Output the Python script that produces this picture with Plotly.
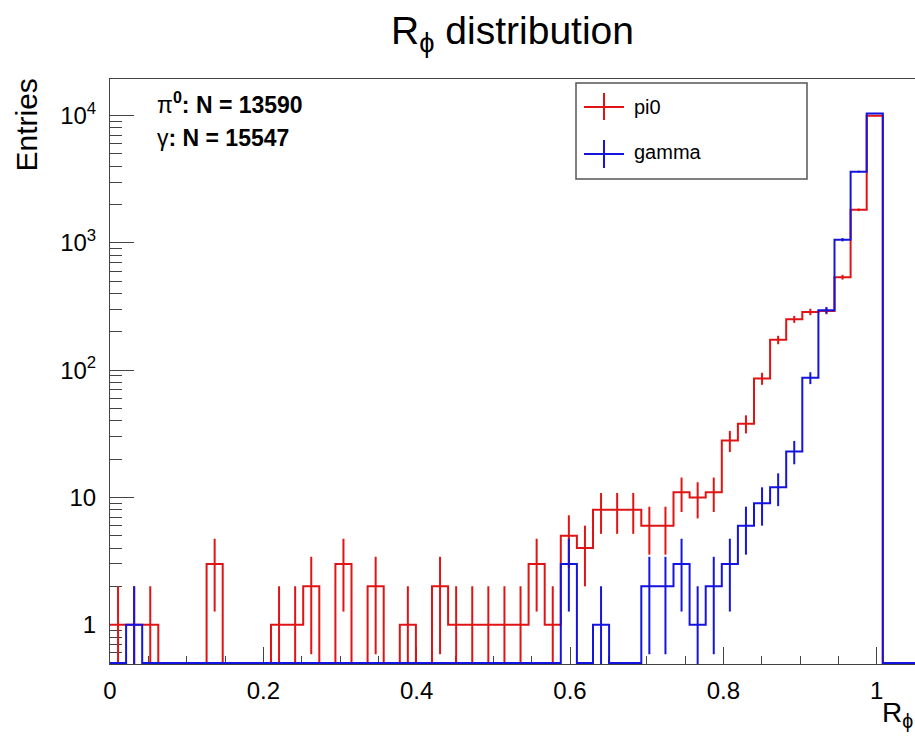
import math
import plotly.graph_objects as go

# ---------------- data ----------------
NBINS = 50
X_LOW = 0.0
X_HIGH = 1.05

pi0_counts = [1, 1, 1, 0, 0, 0, 3, 0, 0, 0,
              1, 1, 2, 0, 3, 0, 2, 0, 1, 0,
              2, 1, 1, 1, 1, 1, 3, 1, 5, 4,
              8, 8, 8, 6, 6, 11, 10, 11, 28, 38,
              86, 173, 251, 287, 292, 538, 1820, 9973, 0, 0]

gamma_counts = [0, 1, 0, 0, 0, 0, 0, 0, 0, 0,
                0, 0, 0, 0, 0, 0, 0, 0, 0, 0,
                0, 0, 0, 0, 0, 0, 0, 0, 3, 0,
                1, 0, 0, 2, 2, 3, 1, 2, 3, 6,
                9, 12, 23, 87, 296, 1060, 3630, 10406, 0, 0]

series_names = ["pi0", "gamma"]
x_tick_vals = [0, 0.2, 0.4, 0.6, 0.8, 1.0]
x_tick_text = ["0", "0.2", "0.4", "0.6", "0.8", "1"]
y_tick_vals = [1, 10, 100, 1000, 10000]
y_tick_text = ["1", "10", "10<sup>2</sup>", "10<sup>3</sup>", "10<sup>4</sup>"]

Y_MIN = 0.5
Y_MAX = 19400

RED = "#e01414"
BLUE = "#1414e0"

W, H = 915, 736
SL, ST, SR, SB = 110, 79, 915, 664          # plot frame in pixels
L, T, R, B = SL, ST, W - SR, H - SB
PW, PH = SR - SL, SB - ST


def px(xp):
    return (xp - SL) / PW


def py(yp):
    return (SB - yp) / PH


bw = (X_HIGH - X_LOW) / NBINS
edges = [X_LOW + i * bw for i in range(NBINS + 1)]
centers = [X_LOW + (i + 0.5) * bw for i in range(NBINS)]


def step_trace(counts, color):
    ys = [max(c, Y_MIN) for c in counts]
    ys = ys + [ys[-1]]
    return go.Scatter(x=edges, y=ys, mode="lines", line=dict(color=color, width=2, shape="hv"),
                      showlegend=False, hoverinfo="skip")


def err_trace(counts, color):
    xs, ys = [], []
    for c, n in zip(centers, counts):
        if n > 0:
            e = math.sqrt(n)
            xs += [c, c, None]
            ys += [max(n - e, 1e-3), n + e, None]
    return go.Scatter(x=xs, y=ys, mode="lines", line=dict(color=color, width=2),
                      showlegend=False, hoverinfo="skip")


fig = go.Figure()
fig.add_trace(step_trace(pi0_counts, RED))
fig.add_trace(err_trace(pi0_counts, RED))
fig.add_trace(step_trace(gamma_counts, BLUE))
fig.add_trace(err_trace(gamma_counts, BLUE))

minor_y = sorted(set(m * 10 ** k for k in range(-1, 5) for m in range(2, 10)
                     if Y_MIN < m * 10 ** k < Y_MAX))

axis_col = "#444444"
FONT = "Liberation Sans"
fig.update_xaxes(range=[X_LOW, X_HIGH], showline=True, mirror=True, linecolor=axis_col, linewidth=1,
                 ticks="inside", ticklen=17, tickwidth=1, tickcolor=axis_col,
                 tickvals=x_tick_vals, ticktext=x_tick_text,
                 minor=dict(ticks="inside", ticklen=8, tickwidth=1, tickcolor=axis_col, dtick=0.05, showgrid=False),
                 showgrid=False, zeroline=False, layer="below traces",
                 tickfont=dict(family=FONT, size=24, color="black"), ticklabelstandoff=5)
fig.update_yaxes(type="log", range=[math.log10(Y_MIN) - 0.008, math.log10(Y_MAX)], showline=True, mirror=True,
                 linecolor=axis_col, linewidth=1,
                 ticks="inside", ticklen=24, tickwidth=1, tickcolor=axis_col,
                 tickvals=y_tick_vals, ticktext=y_tick_text,
                 minor=dict(ticks="inside", ticklen=12, tickwidth=1, tickcolor=axis_col,
                            tickmode="array", tickvals=minor_y, showgrid=False),
                 showgrid=False, zeroline=False, layer="below traces",
                 tickfont=dict(family=FONT, size=24, color="black"), ticklabelstandoff=8)

shapes = []
# legend box
shapes.append(dict(type="rect", xref="paper", yref="paper", x0=px(576), x1=px(807), y0=py(179), y1=py(83),
                   line=dict(color="#555555", width=1.5), fillcolor="white"))
for col, yc, y0, y1 in [(RED, 107, 93, 120), (BLUE, 154, 140, 168)]:
    shapes.append(dict(type="line", xref="paper", yref="paper", x0=px(584), x1=px(624), y0=py(yc), y1=py(yc),
                       line=dict(color=col, width=2)))
    shapes.append(dict(type="line", xref="paper", yref="paper", x0=px(604), x1=px(604), y0=py(y0), y1=py(y1),
                       line=dict(color=col, width=2)))

annotations = []
for name, yc in zip(series_names, [107, 152]):
    annotations.append(dict(text=name, xref="paper", yref="paper", x=px(632), y=py(yc), xanchor="left",
                            yanchor="middle", showarrow=False,
                            font=dict(family=FONT, size=20, color="black")))

annotations.append(dict(text="π<b><sup>0</sup>: N = %d</b>" % sum(pi0_counts), xref="paper", yref="paper",
                        x=px(155), y=py(103), xanchor="left", yanchor="middle", showarrow=False,
                        font=dict(family=FONT, size=23, color="black")))
annotations.append(dict(text="γ<b>: N = %d</b>" % sum(gamma_counts), xref="paper", yref="paper",
                        x=px(155), y=py(138), xanchor="left", yanchor="middle", showarrow=False,
                        font=dict(family=FONT, size=23, color="black")))
# axis titles
annotations.append(dict(text="Entries", xref="paper", yref="paper", x=px(26), y=py(77), xanchor="center",
                        yanchor="top", textangle=-90, showarrow=False,
                        font=dict(family=FONT, size=30, color="black")))
annotations.append(dict(text="R<sub>ϕ</sub>", xref="paper", yref="paper", x=1.0, y=py(714), xanchor="right",
                        yanchor="middle", showarrow=False,
                        font=dict(family=FONT, size=28, color="black")))

fig.update_layout(
    width=W, height=H,
    margin=dict(l=L, r=R, t=T, b=B, pad=0, autoexpand=False),
    paper_bgcolor="white", plot_bgcolor="white",
    title=dict(text="R<sub>ϕ</sub> distribution", xref="paper", x=0.5, xanchor="center",
               yref="container", y=1 - 30 / H, yanchor="middle",
               font=dict(family=FONT, size=39, color="black")),
    shapes=shapes, annotations=annotations, showlegend=False,
)

fig.write_html("out.html", config={"displayModeBar": False},
               post_script="document.body.style.margin='0';document.body.style.overflow='hidden';")
